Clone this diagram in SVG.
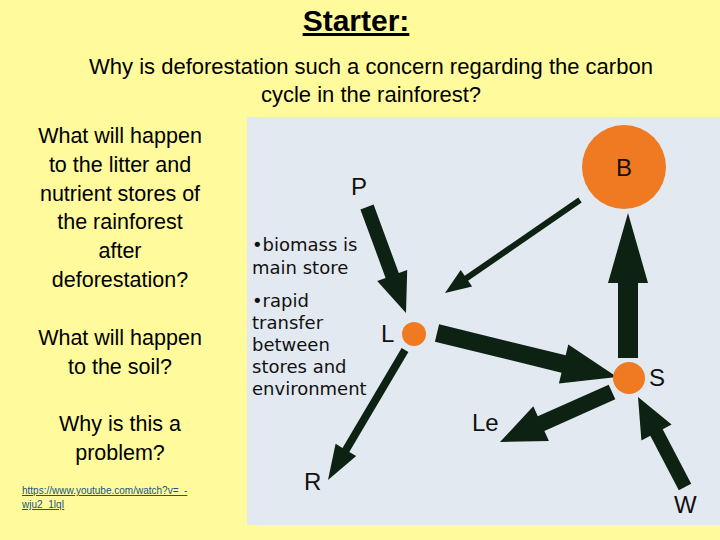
<svg xmlns="http://www.w3.org/2000/svg" width="720" height="540" viewBox="0 0 720 540">
<style>
.c{font-family:"Liberation Sans",Carlito,sans-serif;font-size:21.5px;fill:#000;text-anchor:middle}
.v{font-family:"DejaVu Sans",Verdana,sans-serif;font-size:18px;fill:#111}
.lab{font-family:"Liberation Sans",Arial,sans-serif;font-size:24px;fill:#111}
.a{fill:#0d2212;stroke:none}
.n{fill:#f07a22}
</style>
<rect width="720" height="540" fill="#fffb9c"/>
<text x="356" y="31" font-family="'Liberation Sans',sans-serif" font-size="30" font-weight="bold" text-anchor="middle" text-decoration="underline">Starter:</text>
<text class="c" x="371" y="74" style="font-size:22px">Why is deforestation such a concern regarding the carbon</text>
<text class="c" x="371" y="102" style="font-size:22px">cycle in the rainforest?</text>
<g class="c">
<text x="120" y="143">What will happen</text>
<text x="120" y="172">to the litter and</text>
<text x="120" y="201">nutrient stores of</text>
<text x="120" y="229">the rainforest</text>
<text x="120" y="258">after</text>
<text x="120" y="287">deforestation?</text>
<text x="120" y="345">What will happen</text>
<text x="120" y="374">to the soil?</text>
<text x="120" y="431">Why is this a</text>
<text x="120" y="460">problem?</text>
</g>
<text x="22" y="494" font-family="'Liberation Sans',sans-serif" font-size="10" fill="#1f4e8c" text-decoration="underline">https://www.youtube.com/watch?v=_-</text>
<text x="22" y="508" font-family="'Liberation Sans',sans-serif" font-size="10" fill="#1f4e8c" text-decoration="underline">wju2_1lqI</text>
<rect x="247" y="117" width="473" height="408" fill="#e3e9f0"/>
<g class="v">
<text x="252" y="251">•biomass is</text>
<text x="252" y="274">main store</text>
<text x="252" y="307">•rapid</text>
<text x="252" y="329">transfer</text>
<text x="252" y="351">between</text>
<text x="252" y="373">stores and</text>
<text x="252" y="395">environment</text>
</g>
<g id="connectors">
<polygon class="a" points="360.4,209.4 385.6,277.9 377.2,281.0 406,313 407.2,270.0 398.8,273.1 373.6,204.6"/>
<polygon class="a" points="578.3,197.5 464.7,275.8 460.7,270.1 445,293 472.1,286.5 468.1,280.8 581.7,202.5"/>
<polygon class="a" points="434.9,341.7 561.5,372.7 558.9,383.4 617,377 568.3,344.6 565.7,355.3 439.1,324.3"/>
<polygon class="a" points="638,358 638,283 648,283 628,213 608,283 618,283 618,358"/>
<polygon class="a" points="608.7,384.7 537.8,416.3 533.3,406.3 500,442 548.9,441.0 544.4,430.9 615.3,399.3"/>
<polygon class="a" points="691.2,483.8 662.7,429.3 671.6,424.6 638,397 641.4,440.4 650.3,435.7 678.8,490.2"/>
<polygon class="a" points="401.6,348.0 342.5,447.9 335.6,443.8 328,480 356.2,456.0 349.3,451.9 408.4,352.0"/>
</g>
<g id="B"><circle class="n" cx="624" cy="167" r="42"/><text class="lab" x="624" y="176" text-anchor="middle">B</text></g>
<g id="L"><circle class="n" cx="414" cy="334" r="12"/><text class="lab" x="381" y="342">L</text></g>
<g id="S"><circle class="n" cx="629" cy="378" r="16"/><text class="lab" x="649" y="386">S</text></g>
<g id="P"><text class="lab" x="351" y="195">P</text></g>
<g id="Le"><text class="lab" x="472" y="431">Le</text></g>
<g id="R"><text class="lab" x="304" y="490">R</text></g>
<g id="W"><text class="lab" x="674" y="513">W</text></g>
</svg>
